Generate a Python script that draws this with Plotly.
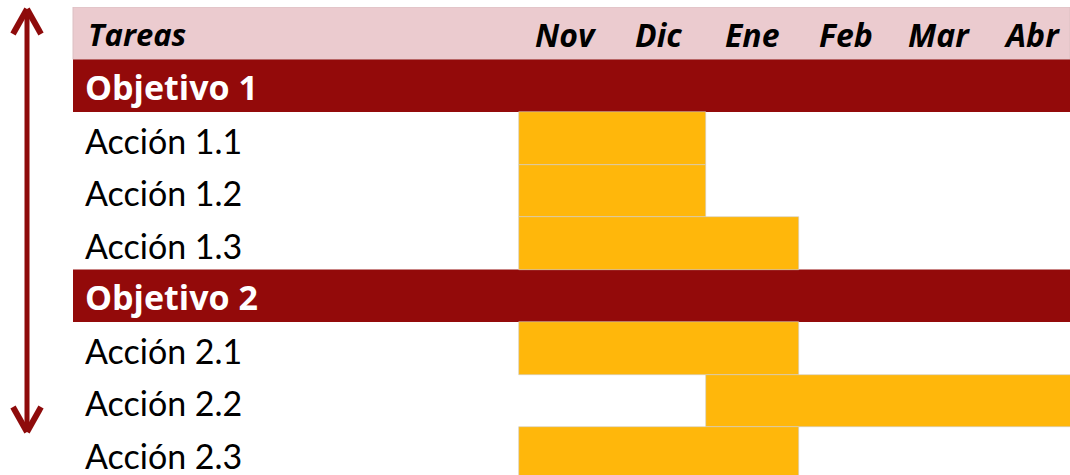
import plotly.graph_objects as go

# ---- data ----
months = ["Nov", "Dic", "Ene", "Feb", "Mar", "Abr"]
rows = ["Tareas", "Objetivo 1", "Acción 1.1", "Acción 1.2", "Acción 1.3",
        "Objetivo 2", "Acción 2.1", "Acción 2.2", "Acción 2.3"]
row_kind = ["header", "objective", "task", "task", "task",
            "objective", "task", "task", "task"]
task_names = ["Acción 1.1", "Acción 1.2", "Acción 1.3",
              "Acción 2.1", "Acción 2.2", "Acción 2.3"]
task_start = ["Nov", "Nov", "Nov", "Nov", "Ene", "Nov"]
task_end = ["Dic", "Dic", "Ene", "Ene", "Abr", "Ene"]

# ---- styles ----
YELLOW = "#FFB70B"
DARKRED = "#930A0A"
PINK = "#EBCBCF"
ARROW = "#8E0B0B"
FONT = "Lato"
HFONT = "Open Sans"

W, H = 1070, 475
ML, MT = 73, 7
ROW_PX = 52.5
COL_PX = 93.3
X0_PX = 519  # pixel where first month starts

plot_w = W - ML
plot_h = H - MT
x_lo = -(X0_PX - ML) / COL_PX
x_hi = (W - X0_PX) / COL_PX
y_top = -0.5
y_bot = y_top + plot_h / ROW_PX

row_idx = {r: i for i, r in enumerate(rows)}
m_idx = {m: i for i, m in enumerate(months)}

fig = go.Figure()

shapes = []
for i, kind in enumerate(row_kind):
    if kind == "header":
        shapes.append(dict(type="rect", xref="paper", yref="y", x0=0, x1=1,
                           y0=i - 0.5, y1=i + 0.5, fillcolor=PINK,
                           line=dict(width=1, color="#dcc0c3"), layer="below"))
    elif kind == "objective":
        shapes.append(dict(type="rect", xref="paper", yref="y", x0=0, x1=1,
                           y0=i - 0.5, y1=i + 0.5, fillcolor=DARKRED,
                           line=dict(width=0), layer="below"))

ys = [row_idx[t] for t in task_names]
bases = [m_idx[s] for s in task_start]
lens = [m_idx[e] - m_idx[s] + 1 for s, e in zip(task_start, task_end)]
fig.add_trace(go.Bar(
    y=ys, x=lens, base=bases, orientation="h", width=1,
    marker=dict(color=YELLOW, line=dict(color="#cfcfcf", width=0.6)),
    hoverinfo="skip", showlegend=False,
))

annotations = []
label_x = x_lo + (83 - ML) / COL_PX
for i, (r, kind) in enumerate(zip(rows, row_kind)):
    if kind == "header":
        annotations.append(dict(x=x_lo + (86 - ML) / COL_PX, y=i + 0.02, xref="x", yref="y",
                                text="<b><i>%s</i></b>" % r, showarrow=False,
                                xanchor="left", yanchor="middle",
                                font=dict(family=HFONT, size=31, color="#000")))
    elif kind == "objective":
        annotations.append(dict(x=label_x, y=i + 0.02, xref="x", yref="y",
                                text="<b>%s</b>" % r, showarrow=False,
                                xanchor="left", yanchor="middle",
                                font=dict(family=HFONT, size=34, color="#fff")))
    else:
        annotations.append(dict(x=label_x, y=i + 0.04, xref="x", yref="y",
                                text=r, showarrow=False,
                                xanchor="left", yanchor="middle",
                                font=dict(family=FONT, size=34, color="#000")))

for j, m in enumerate(months):
    annotations.append(dict(x=j + 0.5, y=0.02, xref="x", yref="y",
                            text="<b><i>%s</i></b>" % m, showarrow=False,
                            xanchor="center", yanchor="middle",
                            font=dict(family=HFONT, size=32, color="#000")))


def px_to_paper_x(px):
    return (px - ML) / plot_w


def px_to_paper_y(py):
    return (H - py) / plot_h


arrow_x = px_to_paper_x(27)
top_y = px_to_paper_y(9)
bot_y = px_to_paper_y(432)
shapes.append(dict(type="line", xref="paper", yref="paper",
                   x0=arrow_x, x1=arrow_x, y0=top_y - 0.004, y1=bot_y + 0.004,
                   line=dict(color=ARROW, width=5)))
for ty, sgn in [(top_y, -1), (bot_y, 1)]:
    for dx in (-14, 14):
        shapes.append(dict(type="line", xref="paper", yref="paper",
                           x0=arrow_x, y0=ty,
                           x1=arrow_x + dx / plot_w, y1=ty + sgn * 25 / plot_h,
                           line=dict(color=ARROW, width=6)))

fig.update_layout(
    width=W, height=H,
    margin=dict(l=ML, r=0, t=MT, b=0, pad=0),
    paper_bgcolor="white", plot_bgcolor="white",
    xaxis=dict(range=[x_lo, x_hi], visible=False, fixedrange=True),
    yaxis=dict(range=[y_bot, y_top], visible=False, fixedrange=True),
    shapes=shapes, annotations=annotations, bargap=0,
    showlegend=False,
)

fig.write_html(
    "out.html",
    config={"displayModeBar": False},
    post_script="document.body.style.margin='0';document.body.style.overflow='hidden';",
)
